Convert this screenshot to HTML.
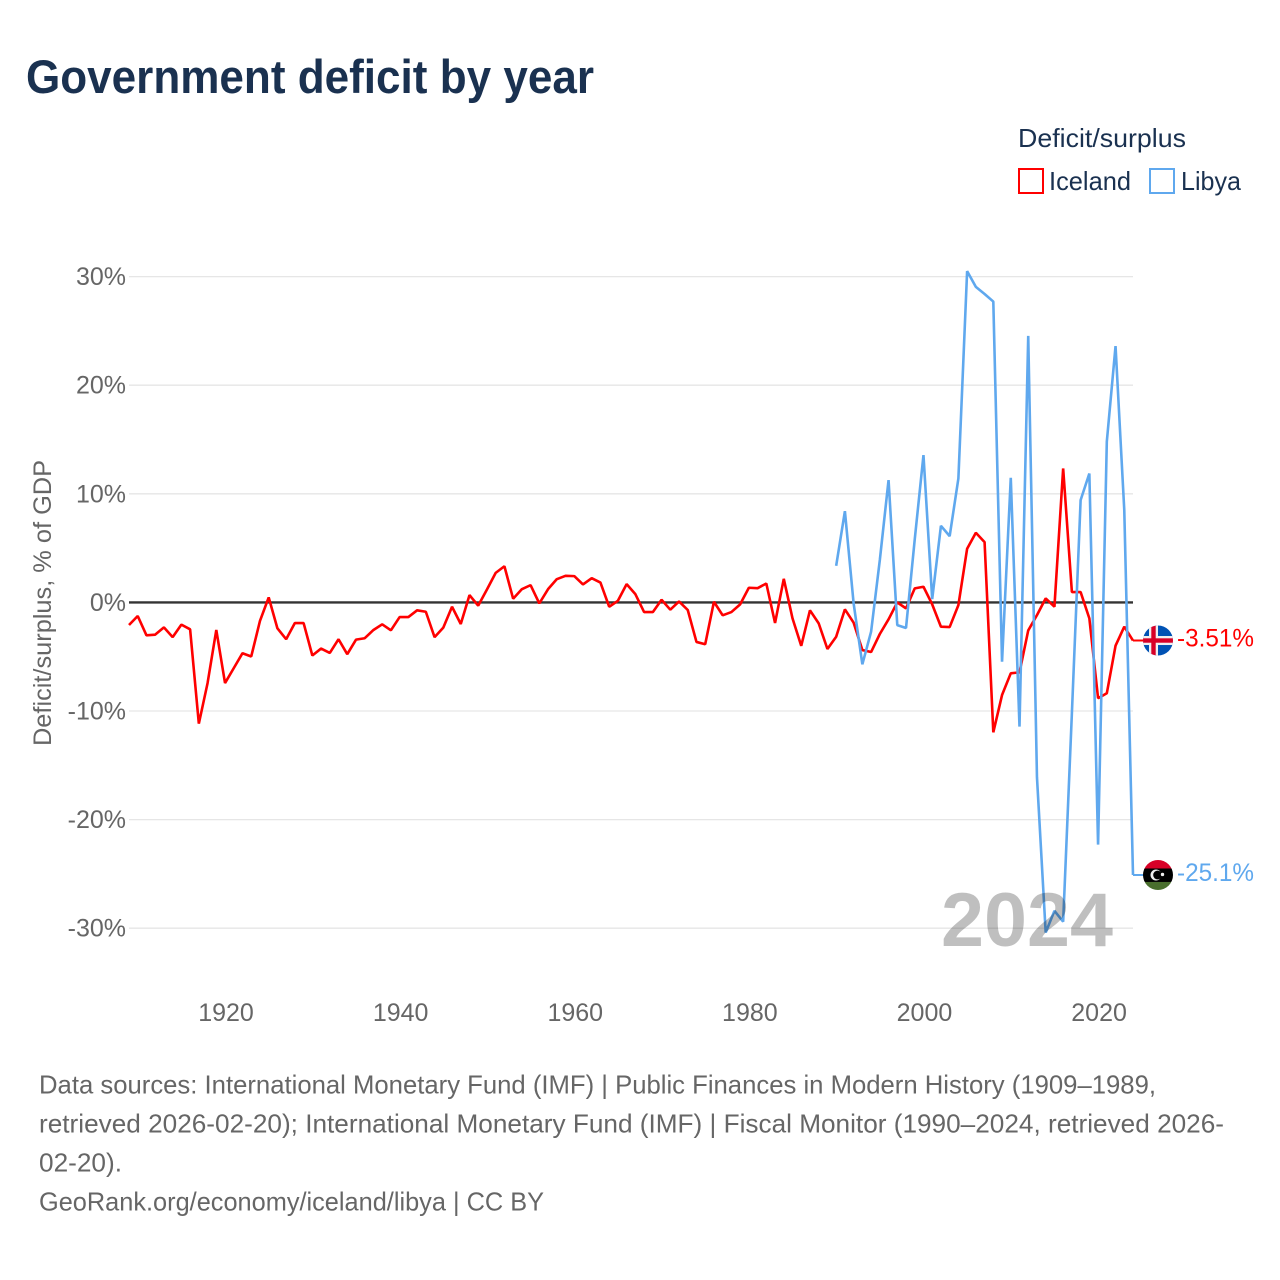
<!DOCTYPE html>
<html lang="en">
<head>
<meta charset="utf-8">
<title>Government deficit by year</title>
<style>
  html, body { margin: 0; padding: 0; background: #fff; }
  svg { display: block; font-family: "Liberation Sans", "DejaVu Sans", sans-serif; }
</style>
</head>
<body>
<svg id="chart" xmlns="http://www.w3.org/2000/svg" width="1280" height="1280" viewBox="0 0 1280 1280">
  <defs>
    <clipPath id="clip-iceland"><circle cx="0" cy="0" r="15"/></clipPath>
    <clipPath id="clip-libya"><circle cx="0" cy="0" r="15"/></clipPath>
  </defs>
  <rect width="1280" height="1280" fill="#fff"/>
  <text x="26" y="93" font-size="47" font-weight="700" fill="#1a3150" textLength="568" lengthAdjust="spacingAndGlyphs">Government deficit by year</text>

  <g>
    <text x="1018" y="147" font-size="26" fill="#1a3150" textLength="168" lengthAdjust="spacingAndGlyphs">Deficit/surplus</text>
    <g>
      <rect x="1019" y="169" width="24" height="24" fill="#fff" stroke="#ff0000" stroke-width="2"/>
      <text x="1049" y="190" font-size="26" fill="#1a3150" textLength="82" lengthAdjust="spacingAndGlyphs">Iceland</text>
    </g>
    <g>
      <rect x="1150" y="169" width="24" height="24" fill="#fff" stroke="#5fa8ee" stroke-width="2"/>
      <text x="1181" y="190" font-size="26" fill="#1a3150" textLength="60" lengthAdjust="spacingAndGlyphs">Libya</text>
    </g>
  </g>

  <text transform="translate(51,603) rotate(-90)" text-anchor="middle" font-size="25" fill="#666" textLength="286" lengthAdjust="spacingAndGlyphs">Deficit/surplus, % of GDP</text>

  <g id="grid"></g>
  <g id="y-ticks"></g>
  <g id="x-ticks"></g>
  <g id="series"></g>
  <g id="end-labels"></g>

  <text x="941" y="946" font-size="76" font-weight="700" fill="#000" fill-opacity="0.25" textLength="172" lengthAdjust="spacingAndGlyphs">2024</text>

  <g font-size="26" fill="#666">
    <text x="39" y="1093.5" textLength="1117" lengthAdjust="spacingAndGlyphs">Data sources: International Monetary Fund (IMF) | Public Finances in Modern History (1909–1989,</text>
    <text x="39" y="1132.5" textLength="1185" lengthAdjust="spacingAndGlyphs">retrieved 2026-02-20); International Monetary Fund (IMF) | Fiscal Monitor (1990–2024, retrieved 2026-</text>
    <text x="39" y="1171.5" textLength="83" lengthAdjust="spacingAndGlyphs">02-20).</text>
    <text x="39" y="1210.5" textLength="505" lengthAdjust="spacingAndGlyphs">GeoRank.org/economy/iceland/libya | CC BY</text>
  </g>
</svg>

<script>
const yTickValues = [30, 20, 10, 0, -10, -20, -30];
const xTickValues = [1920, 1940, 1960, 1980, 2000, 2020];
const icelandFirstYear = 1909;
const libyaFirstYear = 1990;
const icelandValues = [
  -2.08, -1.25, -3.03, -2.97, -2.3, -3.2, -2.05, -2.48, -11.16, -7.43, -2.54,
  -7.43, -6.05, -4.68, -4.98, -1.71, 0.46, -2.39, -3.39, -1.9, -1.9,
  -4.89, -4.25, -4.65, -3.39, -4.77, -3.43, -3.3, -2.54, -2.02, -2.57,
  -1.35, -1.35, -0.73, -0.86, -3.2, -2.32, -0.4, -1.99, 0.67, -0.3,
  1.19, 2.72, 3.33, 0.34, 1.22, 1.59, -0.09, 1.22, 2.14, 2.45,
  2.42, 1.65, 2.23, 1.83, -0.4, 0.15, 1.68, 0.76, -0.89, -0.89,
  0.24, -0.67, 0.09, -0.7, -3.64, -3.85, 0.06, -1.19, -0.89, -0.18,
  1.35, 1.31, 1.74, -1.9, 2.17, -1.47, -4.0, -0.73, -1.93, -4.29,
  -3.16, -0.64, -1.87, -4.39, -4.57, -2.91, -1.56, 0.0, -0.55, 1.29,
  1.44, -0.18, -2.24, -2.27, -0.25, 4.94, 6.41, 5.55, -11.96, -8.53,
  -6.53, -6.44, -2.58, -1.17, 0.37, -0.4, 12.33, 0.95, 0.95, -1.47,
  -8.83, -8.37, -3.99, -2.24, -3.51
];
const libyaValues = [
  3.37, 8.4, -0.1, -5.7, -2.7, 3.9, 11.26, -2.09, -2.36, 5.8,
  13.56, 0.3, 7.05, 6.1, 11.41, 30.5, 29.05, 28.4, 27.7, -5.46,
  11.47, -11.44, 24.54, -16.1, -30.4, -28.4, -29.4, -10.2, 9.42, 11.87,
  -22.3, 14.8, 23.6, 8.5, -25.1
];
const icelandLabel = "-3.51%";
const libyaLabel = "-25.1%";

const NS = "http://www.w3.org/2000/svg";
const RED = "#ff0000";
const BLUE = "#5fa8ee";
const plotLeft = 129, plotRight = 1133;
const flagX = 1158;

function xScale(year) { return plotLeft + (year - 1909) * (plotRight - plotLeft) / (2024 - 1909); }
function yScale(value) { return 602.4 - value * 10.86; }

function make(tag, attrs, parent, text) {
  const node = document.createElementNS(NS, tag);
  for (const key in attrs) node.setAttribute(key, attrs[key]);
  if (text !== undefined) node.textContent = text;
  parent.appendChild(node);
  return node;
}

const gridGroup = document.getElementById("grid");
const yTickGroup = document.getElementById("y-ticks");
const xTickGroup = document.getElementById("x-ticks");
const seriesGroup = document.getElementById("series");
const labelGroup = document.getElementById("end-labels");

yTickValues.forEach(function (v) {
  if (v !== 0) {
    const line = make("line", { x1: plotLeft, x2: plotRight, y1: yScale(v), y2: yScale(v), stroke: "#e6e6e6", "stroke-width": 1.3 }, gridGroup);
    
    
  }
  const label = make("text", { x: 126, y: yScale(v) + 8.5, "text-anchor": "end", "font-size": 25, fill: "#666" }, yTickGroup, v + "%");
  
  
});

xTickValues.forEach(function (year) {
  const label = make("text", { x: xScale(year) + 1, y: 1021, "text-anchor": "middle", "font-size": 25, fill: "#666" }, xTickGroup, String(year));
  
  
});

function pointsFor(values, firstYear) {
  return values.map(function (v, i) {
    return xScale(firstYear + i).toFixed(2) + "," + yScale(v).toFixed(2);
  }).join(" ");
}

const icelandLine = make("polyline", { points: pointsFor(icelandValues, icelandFirstYear), fill: "none", stroke: RED, "stroke-width": 2.6, "stroke-linejoin": "bevel" }, seriesGroup);



const libyaLine = make("polyline", { points: pointsFor(libyaValues, libyaFirstYear), fill: "none", stroke: BLUE, "stroke-width": 2.6, "stroke-linejoin": "bevel" }, seriesGroup);



const zeroLine = make("line", { x1: plotLeft, x2: plotRight, y1: yScale(0), y2: yScale(0), stroke: "#333", "stroke-width": 2.4 }, gridGroup);



const icelandEndY = yScale(icelandValues[icelandValues.length - 1]);
const libyaEndY = yScale(libyaValues[libyaValues.length - 1]);

const icelandConnector = make("line", { x1: plotRight, x2: flagX, y1: icelandEndY, y2: icelandEndY, stroke: RED, "stroke-width": 2 }, labelGroup);



const libyaConnector = make("line", { x1: plotRight, x2: flagX, y1: libyaEndY, y2: libyaEndY, stroke: BLUE, "stroke-width": 2 }, labelGroup);



const icelandFlag = make("g", { transform: "translate(" + flagX + "," + icelandEndY + ")", "clip-path": "url(#clip-iceland)" }, labelGroup);


make("rect", { x: -15, y: -15, width: 30, height: 30, fill: "#0052b4" }, icelandFlag);
make("rect", { x: -15, y: -4.5, width: 30, height: 9, fill: "#f0f0f0" }, icelandFlag);
make("rect", { x: -9, y: -15, width: 9, height: 30, fill: "#f0f0f0" }, icelandFlag);
make("rect", { x: -15, y: -2.2, width: 30, height: 4.4, fill: "#d80027" }, icelandFlag);
make("rect", { x: -6.7, y: -15, width: 4.4, height: 30, fill: "#d80027" }, icelandFlag);

const libyaFlag = make("g", { transform: "translate(" + flagX + "," + libyaEndY + ")", "clip-path": "url(#clip-libya)" }, labelGroup);


make("rect", { x: -15, y: -15, width: 30, height: 9, fill: "#d80027" }, libyaFlag);
make("rect", { x: -15, y: -6.5, width: 30, height: 13.5, fill: "#000" }, libyaFlag);
make("rect", { x: -15, y: 7, width: 30, height: 8, fill: "#496e2d" }, libyaFlag);
make("circle", { cx: -2, cy: 0, r: 5.5, fill: "#f0f0f0" }, libyaFlag);
make("circle", { cx: -0.4, cy: 0, r: 4.4, fill: "#000" }, libyaFlag);
make("circle", { cx: 4.5, cy: -0.5, r: 1.7, fill: "#f0f0f0" }, libyaFlag);

const icelandText = make("text", { x: 1177, y: icelandEndY + 6, "font-size": 25, fill: RED, textLength: 77, lengthAdjust: "spacingAndGlyphs" }, labelGroup, icelandLabel);



const libyaText = make("text", { x: 1177, y: libyaEndY + 6, "font-size": 25, fill: BLUE, textLength: 77, lengthAdjust: "spacingAndGlyphs" }, labelGroup, libyaLabel);


</script>
</body>
</html>
